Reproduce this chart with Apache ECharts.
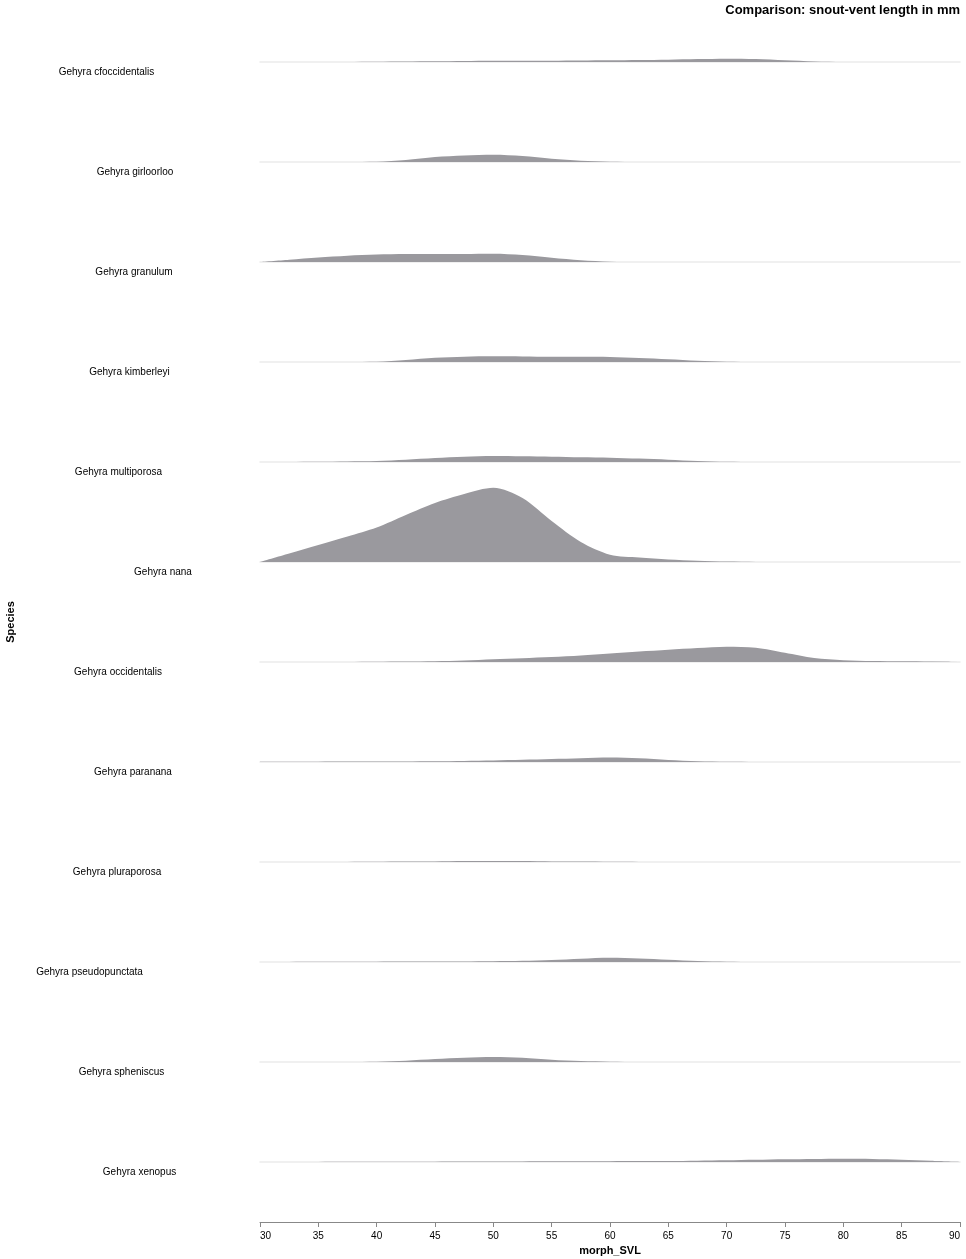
<!DOCTYPE html>
<html>
<head>
<meta charset="utf-8">
<script src="https://cdn.jsdelivr.net/npm/echarts@6/dist/echarts.min.js"></script>
<style>
  html, body { margin: 0; padding: 0; background: #fff; }
  #chart { width: 966px; height: 1259px; }
</style>
</head>
<body>
<div id="chart"></div>
<script>
// ---- data ----
const SPECIES = [
  'Gehyra cfoccidentalis', 'Gehyra girloorloo', 'Gehyra granulum', 'Gehyra kimberleyi',
  'Gehyra multiporosa', 'Gehyra nana', 'Gehyra occidentalis', 'Gehyra paranana',
  'Gehyra pluraporosa', 'Gehyra pseudopunctata', 'Gehyra spheniscus', 'Gehyra xenopus'
];
// sample points of morph_SVL (mm)
const SVL = [30, 32.5, 35, 37.5, 40, 42.5, 45, 47.5, 50, 52.5, 55, 57.5, 60,
             62.5, 65, 67.5, 70, 72.5, 75, 77.5, 80, 82.5, 85, 87.5, 90];
//                        30      32.5     35      37.5     40      42.5     45      47.5     50      52.5     55      57.5     60      62.5     65      67.5     70      72.5     75      77.5     80      82.5     85      87.5     90
const D_CFOCCIDENTALIS = [0,      0,       0,      0.0001,  0.0003, 0.0005,  0.0007, 0.001,   0.0013, 0.0013,  0.0013, 0.0015,  0.0017, 0.002,   0.0023, 0.0029,  0.0033, 0.003,   0.0017, 0.0006,  0.0001, 0,       0,      0,       0];
const D_GIRLOORLOO     = [0,      0,       0,      0.0001,  0.0003, 0.002,   0.005,  0.0065,  0.0073, 0.006,   0.0033, 0.0013,  0.0003, 0.0001,  0,      0,       0,      0,       0,      0,       0,      0,       0,      0,       0];
const D_GRANULUM       = [0,      0.0023,  0.0045, 0.0063,  0.0075, 0.0079,  0.008,  0.0081,  0.0083, 0.007,   0.0043, 0.0018,  0.0003, 0,       0,      0,       0,      0,       0,      0,       0,      0,       0,      0,       0];
const D_KIMBERLEYI     = [0,      0,       0,      0.0001,  0.0003, 0.002,   0.0043, 0.0053,  0.0057, 0.0056,  0.0053, 0.0052,  0.005,  0.004,   0.0027, 0.0012,  0.0002, 0,       0,      0,       0,      0,       0,      0,       0];
const D_MULTIPOROSA    = [0,      0.0001,  0.0003, 0.0006,  0.001,  0.0023,  0.004,  0.0053,  0.006,  0.0057,  0.0053, 0.0048,  0.0043, 0.0034,  0.0023, 0.001,   0.0002, 0,       0,      0,       0,      0,       0,      0,       0];
const D_NANA           = [0,      0.0085,  0.017,  0.0255,  0.0345, 0.047,   0.059,  0.068,   0.0742, 0.064,   0.041,  0.02,    0.0073, 0.0045,  0.0025, 0.0012,  0.0004, 0.0001,  0,      0,       0,      0,       0,      0,       0];
const D_OCCIDENTALIS   = [0,      0,       0,      0.0001,  0.0003, 0.0005,  0.0008, 0.0015,  0.0027, 0.0038,  0.005,  0.0065,  0.0085, 0.0105,  0.0123, 0.014,   0.0153, 0.0143,  0.0093, 0.004,   0.0018, 0.001,   0.0007, 0.0005,  0.0003];
const D_PARANANA       = [0.0003, 0.0003,  0.0003, 0.0004,  0.0005, 0.0006,  0.0008, 0.0011,  0.0015, 0.0022,  0.003,  0.0038,  0.0045, 0.0037,  0.002,  0.0008,  0.0003, 0.0001,  0,      0,       0,      0,       0,      0,       0];
const D_PLURAPOROSA    = [0,      0,       0,      0.0001,  0.0002, 0.0004,  0.0006, 0.0009,  0.001,  0.0009,  0.0006, 0.0004,  0.0002, 0.0001,  0,      0,       0,      0,       0,      0,       0,      0,       0,      0,       0];
const D_PSEUDOPUNCTATA = [0,      0.0001,  0.0002, 0.00025, 0.0003, 0.0004,  0.0005, 0.0006,  0.0008, 0.0012,  0.002,  0.0033,  0.0043, 0.0036,  0.0023, 0.0009,  0.0002, 0,       0,      0,       0,      0,       0,      0,       0];
const D_SPHENISCUS     = [0,      0,       0,      0.0001,  0.0003, 0.0013,  0.003,  0.0043,  0.005,  0.0042,  0.0023, 0.0009,  0.0003, 0.0001,  0,      0,       0,      0,       0,      0,       0,      0,       0,      0,       0];
const D_XENOPUS        = [0,      0.00005, 0.0001, 0.00015, 0.0002, 0.00025, 0.0003, 0.0004,  0.0005, 0.0006,  0.0007, 0.00075, 0.0008, 0.0009,  0.001,  0.0013,  0.0017, 0.0022,  0.0027, 0.0031,  0.0033, 0.0031,  0.0023, 0.0012,  0.0003];
const DENSITIES = [D_CFOCCIDENTALIS, D_GIRLOORLOO, D_GRANULUM, D_KIMBERLEYI, D_MULTIPOROSA, D_NANA,
  D_OCCIDENTALIS, D_PARANANA, D_PLURAPOROSA, D_PSEUDOPUNCTATA, D_SPHENISCUS, D_XENOPUS];
const X_TICKS = [30, 35, 40, 45, 50, 55, 60, 65, 70, 75, 80, 85, 90];

// ---- layout (not data) ----
const PLOT_TOP = 22, ROW_H = 100, RIDGE_H = 40, RIDGE_MAX = 0.04;
const LEFT = 260, RIGHT = 6, BOTTOM = 37;
const LABEL_CENTER_X = [106.5, 135, 134, 129.5, 118.5, 163, 118, 133, 117, 89.5, 121.5, 139.5];
const FONT = 'Liberation Sans, Arial, Helvetica, sans-serif';

const chart = echarts.init(document.getElementById('chart'), null, { renderer: 'canvas' });

const grids = [], xAxes = [], yAxes = [], series = [];
SPECIES.forEach((name, i) => {
  grids.push({
    left: LEFT, right: RIGHT, top: PLOT_TOP + ROW_H * i, height: RIDGE_H,
    containLabel: false, outerBoundsMode: 'none'
  });
  xAxes.push({
    type: 'value', gridIndex: i, min: 30, max: 90, interval: 5,
    axisLine: { show: true, onZero: false, lineStyle: { color: '#ebebeb', width: 1.5 } },
    axisTick: { show: false }, axisLabel: { show: false }, splitLine: { show: false }
  });
  yAxes.push({
    type: 'value', gridIndex: i, min: 0, max: RIDGE_MAX,
    axisLine: { show: false }, axisTick: { show: false }, axisLabel: { show: false },
    splitLine: { show: false }
  });
  series.push({
    name: name,
    type: 'line',
    xAxisIndex: i, yAxisIndex: i,
    symbol: 'none',
    smooth: 0.3,
    clip: false,
    data: SVL.map((x, k) => [x, DENSITIES[i][k]]),
    lineStyle: { width: 0, opacity: 0 },
    areaStyle: { color: '#9a999e', opacity: 1 },
    z: 3
  });
});

// shared axis frame for the whole plot
const AXIS_IDX = SPECIES.length;
grids.push({ left: LEFT, right: RIGHT, top: PLOT_TOP, bottom: BOTTOM, containLabel: false, outerBoundsMode: 'none' });
xAxes.push({
  type: 'value', gridIndex: AXIS_IDX,
  min: 30, max: 90, interval: 5,
  name: 'morph_SVL',
  nameLocation: 'middle',
  nameGap: 23,
  nameTextStyle: { fontFamily: FONT, fontSize: 11, fontWeight: 'bold', color: '#000' },
  axisLine: { show: true, onZero: false, lineStyle: { color: '#888', width: 1 } },
  axisTick: { show: true, length: 5, lineStyle: { color: '#888' } },
  axisLabel: {
    fontFamily: FONT, fontSize: 10, color: '#000', margin: 9,
    alignMinLabel: 'left', alignMaxLabel: 'right',
    formatter: v => X_TICKS.includes(v) ? String(v) : ''
  },
  splitLine: { show: false }
});
yAxes.push({
  type: 'value', gridIndex: AXIS_IDX, min: 0, max: 1,
  name: 'Species',
  nameLocation: 'middle',
  nameRotate: 90,
  nameGap: 244,
  nameTextStyle: { fontFamily: FONT, fontSize: 11, fontWeight: 'bold', color: '#000' },
  axisLine: { show: false }, axisTick: { show: false }, axisLabel: { show: false },
  splitLine: { show: false }
});

chart.setOption({
  animation: false,
  backgroundColor: '#ffffff',
  title: {
    text: 'Comparison: snout-vent length in mm',
    right: 6,
    top: 4,
    padding: 0,
    textStyle: { fontFamily: FONT, fontSize: 13, fontWeight: 'bold', color: '#000' }
  },
  grid: grids,
  xAxis: xAxes,
  yAxis: yAxes,
  series: series
});

// species labels, placed just under each ridge baseline using that ridge's y scale
const graphics = SPECIES.map((name, i) => {
  const baseY = chart.convertToPixel({ yAxisIndex: i }, 0);
  return {
    type: 'text',
    x: LABEL_CENTER_X[i],
    y: baseY + 10.5,
    style: {
      text: name,
      fontFamily: FONT,
      fontSize: 10,
      fill: '#000',
      align: 'center',
      verticalAlign: 'middle'
    }
  };
});
chart.setOption({ graphic: graphics });
</script>
</body>
</html>
